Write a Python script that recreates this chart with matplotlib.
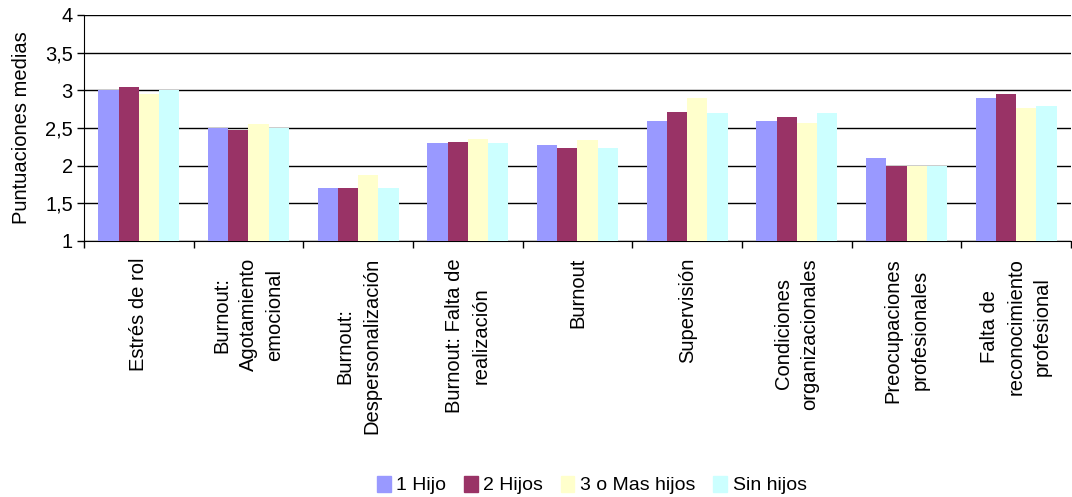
import numpy as np
import matplotlib
matplotlib.use("Agg")
import matplotlib.pyplot as plt
from matplotlib.patches import Patch

plt.rcParams["font.family"] = ["Liberation Sans", "DejaVu Sans"]

categories = [
    "Estrés de rol",
    "Burnout:\nAgotamiento\nemocional",
    "Burnout:\nDespersonalización",
    "Burnout: Falta de\nrealización",
    "Burnout",
    "Supervisión",
    "Condiciones\norganizacionales",
    "Preocupaciones\nprofesionales",
    "Falta de\nreconocimiento\nprofesional",
]

series_names = ["1 Hijo", "2 Hijos", "3 o Mas hijos", "Sin hijos"]

uno_hijo = [3.00, 2.50, 1.70, 2.30, 2.27, 2.59, 2.59, 2.10, 2.90]
dos_hijos = [3.04, 2.47, 1.71, 2.31, 2.24, 2.71, 2.64, 2.00, 2.95]
tres_o_mas = [2.95, 2.55, 1.87, 2.36, 2.34, 2.90, 2.56, 1.99, 2.76]
sin_hijos = [3.00, 2.50, 1.70, 2.30, 2.24, 2.70, 2.70, 1.99, 2.79]

colors = ["#9999FF", "#993366", "#FFFFCC", "#CCFFFF"]
FS = 14.5

fig = plt.figure(figsize=(10.72, 4.97), dpi=100)
ax = fig.add_axes([84 / 1072, 1 - 241 / 497, 987 / 1072, 226 / 497])

x = np.arange(len(categories))
bw = 0.184
for i, vals in enumerate([uno_hijo, dos_hijos, tres_o_mas, sin_hijos]):
    ax.bar(x + (i - 1.5) * bw, np.array(vals) - 1, bottom=1, width=bw,
           color=colors[i], linewidth=0, zorder=3)

ax.set_xlim(-0.5, len(categories) - 0.5)
ax.set_ylim(1, 4)
ax.set_yticks(np.arange(1, 4.01, 0.5))
ax.set_yticklabels(["1", "1,5", "2", "2,5", "3", "3,5", "4"], fontsize=FS)
ax.yaxis.grid(True, color="black", linewidth=1, zorder=0)
ax.set_axisbelow(True)

# category ticks sit between groups
ax.set_xticks(np.arange(len(categories) + 1) - 0.5)
ax.set_xticklabels([])
ax.tick_params(axis="x", length=5, color="black", width=1)
ax.tick_params(axis="y", length=5, color="black", width=1, pad=3)

for xi, lab in zip(x, categories):
    ax.text(xi, -0.075, lab, transform=ax.get_xaxis_transform(),
            rotation=90, ha="center", va="top", multialignment="center",
            fontsize=FS, linespacing=1.5)

for side in ["top", "right"]:
    ax.spines[side].set_visible(False)
ax.spines["left"].set_color("black")
ax.spines["bottom"].set_color("black")

ax.set_ylabel("Puntuaciones medias", fontsize=FS, labelpad=10)

handles = [Patch(color=c, label=n) for c, n in zip(colors, series_names)]
fig.legend(handles=handles, loc="center", bbox_to_anchor=(0.552, 1 - 485 / 497),
           ncol=4, frameon=False, fontsize=FS - 0.5, handlelength=0.7,
           handleheight=0.9, handletextpad=0.3, columnspacing=0.9)

fig.savefig("out.png", dpi=100)
